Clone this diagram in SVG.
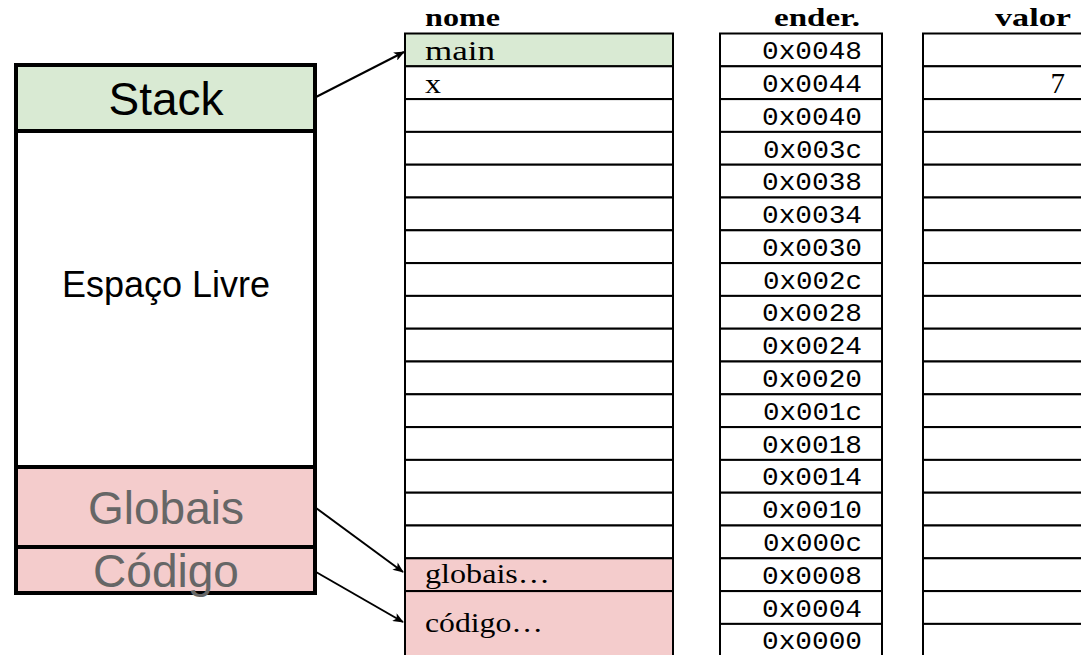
<svg xmlns="http://www.w3.org/2000/svg" width="1081" height="655" viewBox="0 0 1081 655">
<style>
.cell{stroke:#000;stroke-width:2;fill:#fff}
.green{fill:#d9ead3}
.pink{fill:#f4cccc}
.hdr{font-family:"Liberation Serif","Times New Roman",serif;font-weight:bold;font-size:25px;fill:#000}
.nm{font-family:"Liberation Serif","Times New Roman",serif;font-size:28px;fill:#000}
.ad{font-family:"Liberation Mono","Courier New",monospace;font-size:25px;fill:#000;text-anchor:end}
.val{font-family:"Liberation Serif","Times New Roman",serif;font-size:29px;fill:#000;text-anchor:end}
.seg{stroke:#000;stroke-width:4}
.lbl{font-family:"Liberation Sans",Arial,sans-serif;text-anchor:middle}
.conn{stroke:#000;stroke-width:2;fill:none;marker-end:url(#ah)}
</style>
<defs>
<marker id="ah" viewBox="0 0 12 10" refX="11" refY="5" markerWidth="12" markerHeight="9" markerUnits="userSpaceOnUse" orient="auto">
<path d="M0,0 L12,5 L0,10 L3,5 Z" fill="#000"/>
</marker>
</defs>
<rect width="1081" height="655" fill="#fff"/>

<g id="memory-layout">
<g id="stack"><rect x="16" y="65" width="299" height="66" class="seg green"/><text x="166" y="115" class="lbl" font-size="46" fill="#000">Stack</text></g>
<g id="free"><rect x="16" y="131" width="299" height="336" class="seg" fill="#fff"/><text x="166" y="297" class="lbl" font-size="36" fill="#000">Espaço Livre</text></g>
<g id="globais"><rect x="16" y="467" width="299" height="80" class="seg pink"/><text x="166" y="524" class="lbl" font-size="46" fill="#666">Globais</text></g>
<g id="codigo"><rect x="16" y="547" width="299" height="46" class="seg pink"/><text x="166" y="587" class="lbl" font-size="46" fill="#666">Código</text></g>
</g>

<g id="headers">
<text x="425" y="26" class="hdr" textLength="75" lengthAdjust="spacingAndGlyphs">nome</text>
<text x="774" y="26" class="hdr" textLength="86" lengthAdjust="spacingAndGlyphs">ender.</text>
<text x="995" y="26" class="hdr" textLength="76" lengthAdjust="spacingAndGlyphs">valor</text>
</g>

<g id="name-col">
<rect x="405" y="33.5" width="268" height="32.8" class="cell green"/>
<rect x="405" y="66.3" width="268" height="32.8" class="cell"/>
<rect x="405" y="99.1" width="268" height="32.8" class="cell"/>
<rect x="405" y="131.9" width="268" height="32.8" class="cell"/>
<rect x="405" y="164.7" width="268" height="32.8" class="cell"/>
<rect x="405" y="197.5" width="268" height="32.8" class="cell"/>
<rect x="405" y="230.3" width="268" height="32.8" class="cell"/>
<rect x="405" y="263.1" width="268" height="32.8" class="cell"/>
<rect x="405" y="295.9" width="268" height="32.8" class="cell"/>
<rect x="405" y="328.7" width="268" height="32.8" class="cell"/>
<rect x="405" y="361.5" width="268" height="32.8" class="cell"/>
<rect x="405" y="394.3" width="268" height="32.8" class="cell"/>
<rect x="405" y="427.1" width="268" height="32.8" class="cell"/>
<rect x="405" y="459.9" width="268" height="32.8" class="cell"/>
<rect x="405" y="492.7" width="268" height="32.8" class="cell"/>
<rect x="405" y="525.5" width="268" height="32.8" class="cell"/>
<rect x="405" y="558.3" width="268" height="32.8" class="cell pink"/>
<rect x="405" y="591.1" width="268" height="66" class="cell pink"/>
<text x="425" y="60" class="nm" textLength="70" lengthAdjust="spacingAndGlyphs">main</text>
<text x="425" y="93" class="nm" textLength="16" lengthAdjust="spacingAndGlyphs">x</text>
<text x="425" y="583" class="nm" textLength="125" lengthAdjust="spacingAndGlyphs">globais…</text>
<text x="425" y="632" class="nm" textLength="118" lengthAdjust="spacingAndGlyphs">código…</text>
</g>

<g id="addr-col">
<rect x="720" y="33.5" width="162" height="32.8" class="cell"/>
<rect x="720" y="66.3" width="162" height="32.8" class="cell"/>
<rect x="720" y="99.1" width="162" height="32.8" class="cell"/>
<rect x="720" y="131.9" width="162" height="32.8" class="cell"/>
<rect x="720" y="164.7" width="162" height="32.8" class="cell"/>
<rect x="720" y="197.5" width="162" height="32.8" class="cell"/>
<rect x="720" y="230.3" width="162" height="32.8" class="cell"/>
<rect x="720" y="263.1" width="162" height="32.8" class="cell"/>
<rect x="720" y="295.9" width="162" height="32.8" class="cell"/>
<rect x="720" y="328.7" width="162" height="32.8" class="cell"/>
<rect x="720" y="361.5" width="162" height="32.8" class="cell"/>
<rect x="720" y="394.3" width="162" height="32.8" class="cell"/>
<rect x="720" y="427.1" width="162" height="32.8" class="cell"/>
<rect x="720" y="459.9" width="162" height="32.8" class="cell"/>
<rect x="720" y="492.7" width="162" height="32.8" class="cell"/>
<rect x="720" y="525.5" width="162" height="32.8" class="cell"/>
<rect x="720" y="558.3" width="162" height="32.8" class="cell"/>
<rect x="720" y="591.1" width="162" height="32.8" class="cell"/>
<rect x="720" y="623.9" width="162" height="32.8" class="cell"/>
<text x="862" y="59" class="ad" textLength="100" lengthAdjust="spacingAndGlyphs">0x0048</text>
<text x="862" y="92" class="ad" textLength="100" lengthAdjust="spacingAndGlyphs">0x0044</text>
<text x="862" y="125" class="ad" textLength="100" lengthAdjust="spacingAndGlyphs">0x0040</text>
<text x="862" y="158" class="ad" textLength="99" lengthAdjust="spacingAndGlyphs">0x003c</text>
<text x="862" y="190" class="ad" textLength="100" lengthAdjust="spacingAndGlyphs">0x0038</text>
<text x="862" y="223" class="ad" textLength="100" lengthAdjust="spacingAndGlyphs">0x0034</text>
<text x="862" y="256" class="ad" textLength="100" lengthAdjust="spacingAndGlyphs">0x0030</text>
<text x="862" y="289" class="ad" textLength="99" lengthAdjust="spacingAndGlyphs">0x002c</text>
<text x="862" y="321" class="ad" textLength="100" lengthAdjust="spacingAndGlyphs">0x0028</text>
<text x="862" y="354" class="ad" textLength="100" lengthAdjust="spacingAndGlyphs">0x0024</text>
<text x="862" y="387" class="ad" textLength="100" lengthAdjust="spacingAndGlyphs">0x0020</text>
<text x="862" y="420" class="ad" textLength="99" lengthAdjust="spacingAndGlyphs">0x001c</text>
<text x="862" y="453" class="ad" textLength="100" lengthAdjust="spacingAndGlyphs">0x0018</text>
<text x="862" y="485" class="ad" textLength="100" lengthAdjust="spacingAndGlyphs">0x0014</text>
<text x="862" y="518" class="ad" textLength="100" lengthAdjust="spacingAndGlyphs">0x0010</text>
<text x="862" y="551" class="ad" textLength="99" lengthAdjust="spacingAndGlyphs">0x000c</text>
<text x="862" y="584" class="ad" textLength="100" lengthAdjust="spacingAndGlyphs">0x0008</text>
<text x="862" y="617" class="ad" textLength="100" lengthAdjust="spacingAndGlyphs">0x0004</text>
<text x="862" y="649" class="ad" textLength="100" lengthAdjust="spacingAndGlyphs">0x0000</text>
</g>

<g id="value-col">
<rect x="923" y="33.5" width="170" height="32.8" class="cell"/>
<rect x="923" y="66.3" width="170" height="32.8" class="cell"/>
<rect x="923" y="99.1" width="170" height="32.8" class="cell"/>
<rect x="923" y="131.9" width="170" height="32.8" class="cell"/>
<rect x="923" y="164.7" width="170" height="32.8" class="cell"/>
<rect x="923" y="197.5" width="170" height="32.8" class="cell"/>
<rect x="923" y="230.3" width="170" height="32.8" class="cell"/>
<rect x="923" y="263.1" width="170" height="32.8" class="cell"/>
<rect x="923" y="295.9" width="170" height="32.8" class="cell"/>
<rect x="923" y="328.7" width="170" height="32.8" class="cell"/>
<rect x="923" y="361.5" width="170" height="32.8" class="cell"/>
<rect x="923" y="394.3" width="170" height="32.8" class="cell"/>
<rect x="923" y="427.1" width="170" height="32.8" class="cell"/>
<rect x="923" y="459.9" width="170" height="32.8" class="cell"/>
<rect x="923" y="492.7" width="170" height="32.8" class="cell"/>
<rect x="923" y="525.5" width="170" height="32.8" class="cell"/>
<rect x="923" y="558.3" width="170" height="32.8" class="cell"/>
<rect x="923" y="591.1" width="170" height="32.8" class="cell"/>
<rect x="923" y="623.9" width="170" height="32.8" class="cell"/>
<text x="1065" y="93" class="val">7</text>
</g>

<g id="connectors">
<line x1="316" y1="97" x2="404" y2="52" class="conn"/>
<line x1="316" y1="508" x2="403" y2="572" class="conn"/>
<line x1="316" y1="572" x2="403" y2="622" class="conn"/>
</g>
</svg>
